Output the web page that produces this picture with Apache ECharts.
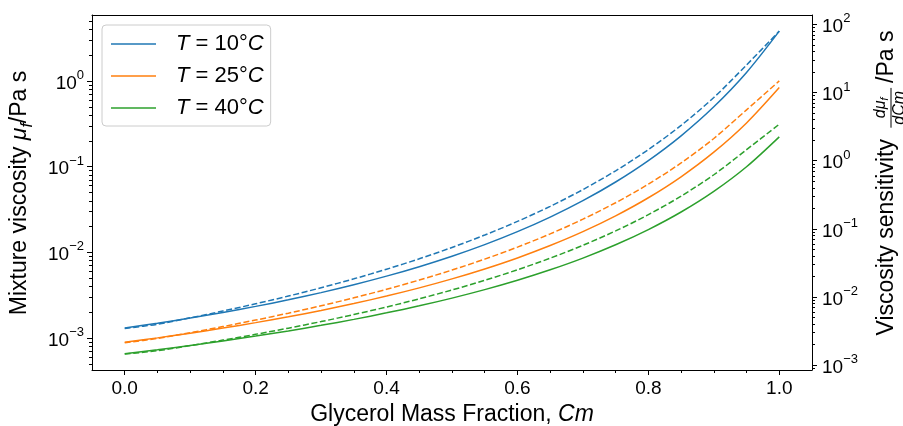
<!DOCTYPE html>
<html><head><meta charset="utf-8">
<script src="https://cdn.jsdelivr.net/npm/echarts@6/dist/echarts.min.js"></script>
<style>html,body{margin:0;padding:0;background:#fff}#c{width:903px;height:426px}</style>
</head><body><div id="c"></div>
<script>
// ---- data ----
const cm = [0, 0.05, 0.1, 0.15, 0.2, 0.25, 0.3, 0.35, 0.4, 0.45, 0.5, 0.55, 0.6, 0.65, 0.7, 0.75, 0.8, 0.85, 0.9, 0.95, 1.0];
// mixture viscosity (Pa s), solid lines, left axis
const visc10 = [1.310e-3, 1.490e-3, 1.713e-3, 1.992e-3, 2.344e-3, 2.799e-3, 3.394e-3, 4.193e-3, 5.282e-3, 6.814e-3, 9.026e-3, 0.01233, 0.01747, 0.02582, 0.04015, 0.06630, 0.1178, 0.2293, 0.4997, 1.258, 3.817];
const visc25 = [8.927e-4, 1.006e-3, 1.142e-3, 1.309e-3, 1.515e-3, 1.774e-3, 2.103e-3, 2.530e-3, 3.093e-3, 3.854e-3, 4.908e-3, 6.410e-3, 8.620e-3, 0.01202, 0.01746, 0.02668, 0.04339, 0.07623, 0.1476, 0.3237, 0.8379];
const visc40 = [6.546e-4, 7.299e-4, 8.190e-4, 9.256e-4, 1.055e-3, 1.212e-3, 1.408e-3, 1.654e-3, 1.970e-3, 2.380e-3, 2.928e-3, 3.677e-3, 4.730e-3, 6.264e-3, 8.580e-3, 0.01226, 0.01845, 0.02960, 0.05154, 0.09986, 0.2230];
// viscosity sensitivity (Pa s), dashed lines, right axis
const sens10 = [3.47e-3, 3.996e-3, 4.959e-3, 6.238e-3, 7.967e-3, 0.01034, 0.01369, 0.01850, 0.02560, 0.03641, 0.05340, 0.08122, 0.1287, 0.2140, 0.3770, 0.7108, 1.455, 3.293, 8.445, 25.35, 79.43];
const sens25 = [2.13e-3, 2.477e-3, 3.007e-3, 3.694e-3, 4.597e-3, 5.807e-3, 7.451e-3, 9.740e-3, 0.01300, 0.01775, 0.02490, 0.03602, 0.05401, 0.08444, 0.1387, 0.2418, 0.4529, 0.9268, 2.118, 5.572, 14.79];
const sens40 = [1.46e-3, 1.634e-3, 1.944e-3, 2.337e-3, 2.841e-3, 3.498e-3, 4.367e-3, 5.540e-3, 7.152e-3, 9.423e-3, 0.01270, 0.01759, 0.02511, 0.03717, 0.05743, 0.09342, 0.1616, 0.3021, 0.6220, 1.449, 3.428];
const legendNames = ['T = 10°C', 'T = 25°C', 'T = 40°C'];
const xTicks = [0, 0.2, 0.4, 0.6, 0.8, 1.0];
const leftDecades = [-3, -2, -1, 0];
const rightDecades = [-3, -2, -1, 0, 1, 2];

// ---- styling ----
const FONT = '"Liberation Sans", Arial, sans-serif';
const colors = ['#1f77b4', '#ff7f0e', '#2ca02c'];
const BLACK = '#000';
const leftRange = [-3.3723, 0.7700];   // log10 extent of left axis
const rightRange = [-3.0697, 2.1367];  // log10 extent of right axis

function minorLogTicks(range) {
  const out = [];
  for (let n = -5; n <= 3; n++) for (let k = 2; k <= 9; k++) {
    const v = n + Math.log10(k);
    if (v > range[0] && v < range[1]) out.push(v);
  }
  return out;
}
const xMinor = [];
for (let i = 1; i < 20; i++) if (i % 4 !== 0) xMinor.push(i * 0.05);

const toLog = arr => cm.map((x, i) => [x, Math.log10(arr[i])]);
const supLabel = v => { const n = Math.round(v); return '{b|10}{s|' + (n < 0 ? '\u2212' + (-n) : String(n)) + '}'; };
const labelRich = {
  b: { fontSize: 19, fontFamily: FONT, color: BLACK, verticalAlign: 'bottom', lineHeight: 24 },
  s: { fontSize: 13, fontFamily: FONT, color: BLACK, verticalAlign: 'top', lineHeight: 13 }
};

function lineSeries(name, data, color, yIdx, dashed) {
  return {
    type: 'line', name, data, xAxisIndex: 0, yAxisIndex: yIdx,
    showSymbol: false, symbol: 'none', smooth: 0.3,
    lineStyle: { color, width: 1.5, type: dashed ? [6, 2.6] : 'solid' },
    itemStyle: { color }, emphasis: { disabled: true }, silent: true, z: dashed ? 3 : 4
  };
}

// text measurement for the stacked fraction in the right axis title
const mctx = document.createElement('canvas').getContext('2d');
function tw(t, size, italic) { mctx.font = (italic ? 'italic ' : '') + size + 'px ' + FONT; return mctx.measureText(t).width; }
const TS = 23, FS = 16, SS = 11;
const wA = tw('Viscosity sensitivity ', TS);
const numW = tw('dμ', FS, true) + tw('f', SS, true);
const denW = tw('dCm', FS, true);
const fracW = Math.max(numW, denW) + 6;
const wB = tw('/Pa s', TS);
const GAP = 5;
const W = wA + GAP + fracW + GAP + wB;
const x0 = -W / 2;
const barY = 4;
const fx = x0 + wA + GAP;

const chart = echarts.init(document.getElementById('c'), null, { renderer: 'canvas' });
chart.setOption({
  animation: false,
  backgroundColor: '#fff',
  grid: { left: 92, right: 91, top: 15, bottom: 56, containLabel: false, outerBoundsMode: 'none' },
  legend: {
    data: legendNames, left: 102, top: 25, orient: 'vertical',
    icon: 'rect', itemWidth: 45, itemHeight: 1.5, itemGap: 10,
    padding: [8, 7, 7, 9], backgroundColor: 'rgba(255,255,255,0.8)',
    borderColor: '#cccccc', borderWidth: 1, borderRadius: 4,
    selectedMode: false,
    formatter: name => {
      const t = name.replace('T = ', '').replace('°C', '');
      return '{i|T}{r| = ' + t + '°}{i|C}';
    },
    textStyle: {
      color: BLACK, fontSize: 22, fontFamily: FONT, padding: [0, 0, 0, 15], lineHeight: 22,
      rich: {
        i: { fontStyle: 'italic', fontSize: 22, fontFamily: FONT, color: BLACK },
        r: { fontSize: 22, fontFamily: FONT, color: BLACK }
      }
    }
  },
  xAxis: [
    {
      type: 'value', min: -0.05, max: 1.05, position: 'bottom',
      axisLine: { show: true, onZero: false, lineStyle: { color: BLACK, width: 1 } },
      axisTick: { show: true, customValues: xTicks, length: 5, lineStyle: { color: BLACK, width: 1 } },
      axisLabel: { customValues: xTicks, formatter: v => Number(v).toFixed(1), color: BLACK, fontSize: 19, fontFamily: FONT, margin: 9 },
      splitLine: { show: false },
      name: 'Glycerol Mass Fraction, {i|Cm}', nameLocation: 'middle', nameGap: 28,
      nameTextStyle: { color: BLACK, fontSize: TS, fontFamily: FONT, rich: { i: { fontStyle: 'italic', fontSize: TS, fontFamily: FONT, color: BLACK } } }
    },
    {
      type: 'value', min: -0.05, max: 1.05, position: 'bottom',
      axisLine: { show: false, onZero: false },
      axisTick: { show: true, customValues: xMinor, length: 3, lineStyle: { color: BLACK, width: 1 } },
      axisLabel: { show: false }, splitLine: { show: false }
    },
    {
      type: 'value', min: -0.05, max: 1.05, position: 'top',
      axisLine: { show: true, onZero: false, lineStyle: { color: BLACK, width: 1 } },
      axisTick: { show: false }, axisLabel: { show: false }, splitLine: { show: false }
    }
  ],
  yAxis: [
    {
      type: 'value', min: leftRange[0], max: leftRange[1], position: 'left',
      axisLine: { show: true, onZero: false, lineStyle: { color: BLACK, width: 1 } },
      axisTick: { show: true, customValues: leftDecades, length: 5, lineStyle: { color: BLACK, width: 1 } },
      axisLabel: { customValues: leftDecades, formatter: supLabel, rich: labelRich, margin: 8 },
      splitLine: { show: false }
    },
    {
      type: 'value', min: leftRange[0], max: leftRange[1], position: 'left',
      axisLine: { show: false, onZero: false },
      axisTick: { show: true, customValues: minorLogTicks(leftRange), length: 3, lineStyle: { color: BLACK, width: 1 } },
      axisLabel: { show: false }, splitLine: { show: false }
    },
    {
      type: 'value', min: rightRange[0], max: rightRange[1], position: 'right',
      axisLine: { show: true, onZero: false, lineStyle: { color: BLACK, width: 1 } },
      axisTick: { show: true, customValues: rightDecades, length: 5, lineStyle: { color: BLACK, width: 1 } },
      axisLabel: { customValues: rightDecades, formatter: supLabel, rich: labelRich, margin: 10 },
      splitLine: { show: false }
    },
    {
      type: 'value', min: rightRange[0], max: rightRange[1], position: 'right',
      axisLine: { show: false, onZero: false },
      axisTick: { show: true, customValues: minorLogTicks(rightRange), length: 3, lineStyle: { color: BLACK, width: 1 } },
      axisLabel: { show: false }, splitLine: { show: false }
    }
  ],
  series: [
    lineSeries(legendNames[0], toLog(visc10), colors[0], 0, false),
    lineSeries(legendNames[1], toLog(visc25), colors[1], 0, false),
    lineSeries(legendNames[2], toLog(visc40), colors[2], 0, false),
    lineSeries('sens10', toLog(sens10), colors[0], 2, true),
    lineSeries('sens25', toLog(sens25), colors[1], 2, true),
    lineSeries('sens40', toLog(sens40), colors[2], 2, true)
  ],
  graphic: [
    {
      type: 'text', x: 22, y: 193, rotation: Math.PI / 2, silent: true,
      style: {
        text: '{r|Mixture viscosity }{i|μ}{sub|f}{r|/Pa s}',
        align: 'center', verticalAlign: 'middle', textAlign: 'center', textVerticalAlign: 'middle',
        rich: {
          r: { fontSize: TS, fontFamily: FONT, fill: BLACK, color: BLACK, verticalAlign: 'top', lineHeight: 27 },
          i: { fontSize: TS, fontFamily: FONT, fontStyle: 'italic', fill: BLACK, color: BLACK, verticalAlign: 'top', lineHeight: 27 },
          sub: { fontSize: 16, fontFamily: FONT, fontStyle: 'italic', fill: BLACK, color: BLACK, verticalAlign: 'bottom', lineHeight: 17 }
        }
      }
    },
    {
      type: 'group', x: 887, y: 183, rotation: Math.PI / 2, silent: true,
      children: [
        { type: 'text', style: { x: x0, y: 0, text: 'Viscosity sensitivity', font: TS + 'px ' + FONT, fill: BLACK, align: 'left', verticalAlign: 'middle', textAlign: 'left', textVerticalAlign: 'middle' } },
        { type: 'text', style: {
            x: fx + fracW / 2, y: barY - 1, text: '{i|dμ}{s|f}',
            align: 'center', verticalAlign: 'bottom', textAlign: 'center', textVerticalAlign: 'bottom',
            rich: {
              i: { fontSize: FS, fontFamily: FONT, fontStyle: 'italic', fill: BLACK, color: BLACK, verticalAlign: 'top', lineHeight: 17 },
              s: { fontSize: SS, fontFamily: FONT, fontStyle: 'italic', fill: BLACK, color: BLACK, verticalAlign: 'bottom', lineHeight: 17 }
            } } },
        { type: 'line', shape: { x1: fx, y1: barY, x2: fx + fracW, y2: barY }, style: { stroke: BLACK, lineWidth: 1 } },
        { type: 'text', style: { x: fx + fracW / 2, y: barY + 1, text: 'dCm', font: 'italic ' + FS + 'px ' + FONT, fill: BLACK,
            align: 'center', verticalAlign: 'top', textAlign: 'center', textVerticalAlign: 'top' } },
        { type: 'text', style: { x: fx + fracW + GAP, y: 0, text: '/Pa s', font: TS + 'px ' + FONT, fill: BLACK, align: 'left', verticalAlign: 'middle', textAlign: 'left', textVerticalAlign: 'middle' } }
      ]
    }
  ]
});
</script>
</body></html>
